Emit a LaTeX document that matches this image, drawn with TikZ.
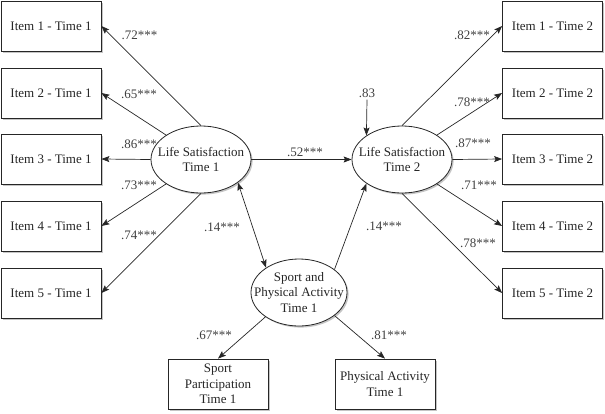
\documentclass[tikz,border=0pt]{standalone}
\usepackage{fontspec}
\setmainfont{Liberation Serif}
\usetikzlibrary{shapes.geometric,arrows.meta,shadows}
\begin{document}
\begin{tikzpicture}[x=1pt,y=-1pt,
  font=\fontsize{13}{15.5}\selectfont,
  shad/.style={drop shadow={shadow xshift=1.6pt,shadow yshift=-1.6pt,fill=black!45}},
  itembox/.style={draw=black!85,line width=0.8pt,fill=white,shad,minimum width=100pt,minimum height=50pt,inner sep=0pt,align=center,text=black!85},
  latent/.style={draw=black!85,line width=0.8pt,fill=white,shad,ellipse,inner sep=0pt,minimum width=100pt,minimum height=67pt},
  ltext/.style={align=center,inner sep=0pt,text=black!85},
  coef/.style={inner sep=0pt,text=black!75},
  arr/.style={draw=black!85,line width=0.7pt,-{Stealth[length=8pt,width=6pt,inset=1.5pt]}},
  darr/.style={draw=black!85,line width=0.7pt,{Stealth[length=8pt,width=6pt,inset=1.5pt]}-{Stealth[length=8pt,width=6pt,inset=1.5pt]}}
]
\useasboundingbox (0,0) rectangle (605,413);
% left items
\node[itembox] (a1) at (51,26) {Item 1 - Time 1};
\node[itembox] (a2) at (51,93) {Item 2 - Time 1};
\node[itembox] (a3) at (51,159) {Item 3 - Time 1};
\node[itembox] (a4) at (51,226) {Item 4 - Time 1};
\node[itembox] (a5) at (51,293) {Item 5 - Time 1};
% right items
\node[itembox] (b1) at (552.5,26) {Item 1 - Time 2};
\node[itembox] (b2) at (552.5,93) {Item 2 - Time 2};
\node[itembox] (b3) at (552.5,159) {Item 3 - Time 2};
\node[itembox] (b4) at (552.5,226) {Item 4 - Time 2};
\node[itembox] (b5) at (552.5,293) {Item 5 - Time 2};
% bottom indicators
\node[itembox] (sp) at (218,384) {Sport\\Participation\\Time 1};
\node[itembox] (pa) at (385,384) {Physical Activity\\Time 1};
% latent variables
\node[latent] (ls1) at (201,159.5) {};
\node[ltext] (ls1t) at (ls1) {Life Satisfaction\\Time 1};
\node[latent] (ls2) at (402,159.5) {};
\node[ltext] (ls2t) at (ls2) {Life Satisfaction\\Time 2};
\node[latent,minimum width=96pt] (spa) at (299,292.5) {};
\node[ltext] (spat) at (spa) {Sport and\\Physical Activity\\Time 1};
% loadings time 1
\draw[arr] (ls1.north) -- (a1.east);
\draw[arr] (ls1.145) -- (a2.east);
\draw[arr] (ls1.west) -- (a3.east);
\draw[arr] (ls1.215) -- (a4.east);
\draw[arr] (ls1.south) -- (a5.east);
% loadings time 2
\draw[arr] (ls2.north) -- (b1.west);
\draw[arr] (ls2.35) -- (b2.west);
\draw[arr] (ls2.east) -- (b3.west);
\draw[arr] (ls2.-35) -- (b4.west);
\draw[arr] (ls2.south) -- (b5.west);
% structural paths
\draw[arr] (ls1.east) -- (ls2.west);
\draw[darr] (ls1.-32) -- (spa.143);
\draw[arr] (spa.33) -- (ls2.214);
\draw[arr] (spa.216) -- (sp.north);
\draw[arr] (spa.-33) -- (pa.north);
% residual
\node[coef] (r83) at (367,93) {.83};
\draw[arr] ([yshift=-2pt]r83.south) -- (ls2.146);
% coefficients
\node[coef] at (139.5,35) {.72***};
\node[coef] at (139,94) {.65***};
\node[coef] at (139,144) {.86***};
\node[coef] at (139,185) {.73***};
\node[coef] at (139,235) {.74***};
\node[coef] at (472,35) {.82***};
\node[coef] at (472,102) {.78***};
\node[coef] at (473,143) {.87***};
\node[coef] at (479,185) {.71***};
\node[coef] at (478,243) {.78***};
\node[coef] at (305,152) {.52***};
\node[coef] at (222,227) {.14***};
\node[coef] at (384,226) {.14***};
\node[coef] at (214,335) {.67***};
\node[coef] at (389,335) {.81***};
\end{tikzpicture}
\end{document}
